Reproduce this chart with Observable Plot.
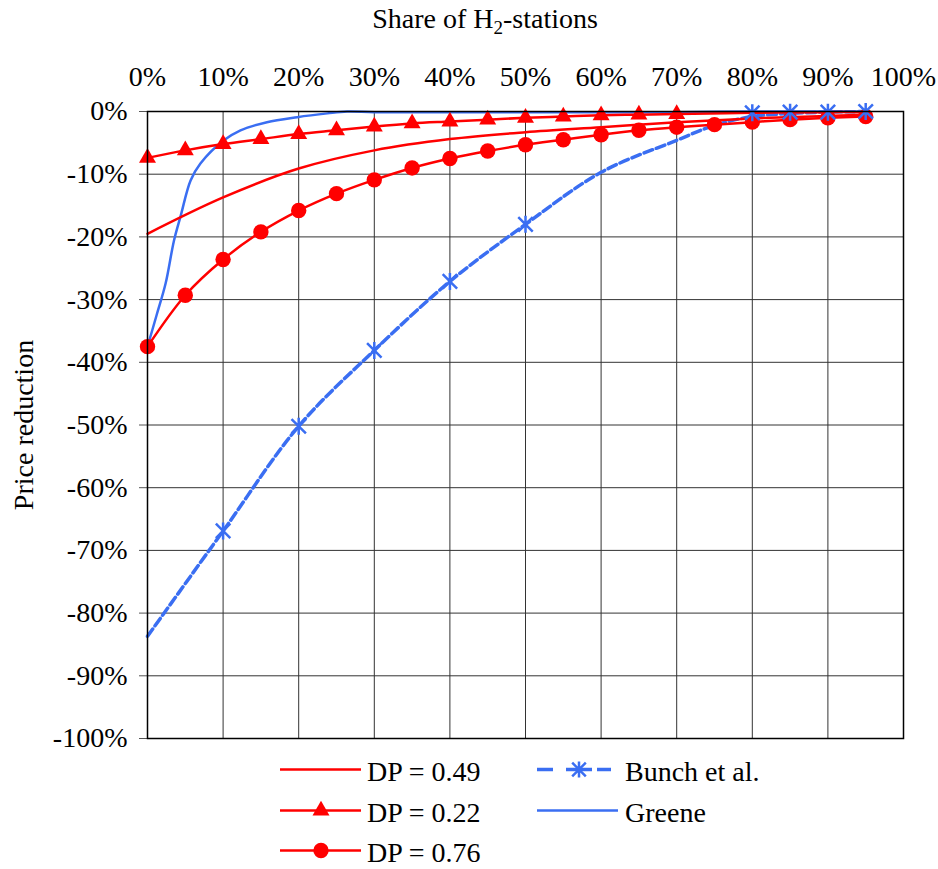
<!DOCTYPE html>
<html>
<head>
<meta charset="utf-8">
<script src="https://cdn.jsdelivr.net/npm/d3@7"></script>
<script src="https://cdn.jsdelivr.net/npm/@observablehq/plot@0.6"></script>
<style>
  html, body { margin: 0; padding: 0; background: #fff; }
  #chart svg { display: block; }
  #chart svg, #chart svg text { font-family: "Liberation Serif", serif !important; }
</style>
</head>
<body>
<div id="chart"></div>
<script>
// ---- data ----
const xTicks = [0, 10, 20, 30, 40, 50, 60, 70, 80, 90, 100];
const yTicks = [0, -10, -20, -30, -40, -50, -60, -70, -80, -90, -100];

// DP = 0.49 (line only)
const dp49X = [0, 10, 20, 30, 40, 50, 60, 70, 80, 90, 95];
const dp49Y = [-19.5, -13.7, -9.1, -6.2, -4.4, -3.3, -2.5, -1.7, -1.1, -0.7, -0.5];

// DP = 0.22 (triangles at 0..70, line continues)
const dp22X = [0, 5, 10, 15, 20, 25, 30, 35, 40, 45, 50, 55, 60, 65, 70, 80, 90, 95];
const dp22Y = [-7.4, -6.2, -5.2, -4.4, -3.6, -3.0, -2.4, -1.9, -1.6, -1.3, -1.0, -0.8, -0.6, -0.5, -0.4, -0.2, -0.1, -0.1];
const dp22MarkerCount = 15;

// DP = 0.76 (circles)
const dp76X = [0, 5, 10, 15, 20, 25, 30, 35, 40, 45, 50, 55, 60, 65, 70, 75, 80, 85, 90, 95];
const dp76Y = [-37.5, -29.3, -23.6, -19.2, -15.8, -13.1, -10.9, -9.0, -7.5, -6.3, -5.3, -4.5, -3.7, -3.0, -2.5, -2.1, -1.7, -1.3, -1.0, -0.8];

// Bunch et al. (dashed line, star markers)
const bunchX = [0, 10, 20, 30, 40, 50, 60, 70, 75, 80, 85, 90, 95];
const bunchY = [-83.7, -66.9, -50.2, -38.1, -27.1, -18.0, -9.7, -4.6, -2.2, -0.8, -0.3, -0.1, 0];
const bunchMarkX = [10, 20, 30, 40, 50, 80, 85, 90, 95];
const bunchMarkY = [-66.9, -50.2, -38.1, -27.1, -18.0, -0.2, -0.1, -0.1, 0];

// Greene (solid blue line)
const greeneX = [0, 1.2, 2.4, 3.5, 4.4, 5.7, 7.0, 10.1, 12.3, 15.8, 19.8, 23.8, 26.4, 30, 40, 50, 60, 70, 80, 90, 95];
const greeneY = [-37.5, -32.5, -27.4, -20.6, -16.6, -11.0, -8.3, -4.6, -3.0, -1.7, -0.9, -0.3, 0, -0.1, -0.1, -0.1, -0.1, -0.1, 0, 0, 0];

const zip = (xs, ys) => xs.map((x, i) => ({x, y: ys[i]}));
const dp49 = zip(dp49X, dp49Y);
const dp22 = zip(dp22X, dp22Y);
const dp22Marks = dp22.slice(0, dp22MarkerCount);
const dp76 = zip(dp76X, dp76Y);
const bunch = zip(bunchX, bunchY);
const bunchMarks = zip(bunchMarkX, bunchMarkY);
const greene = zip(greeneX, greeneY);

const RED = "#ff0000";
const BLUE = "#3a6ef2";
const FONT = "Liberation Serif";
const pct = d => d + "%";

// Excel-style "star" marker: an X with a vertical bar
const starSymbol = {
  draw(context, size) {
    const r = Math.sqrt(size / Math.PI);
    const d = r * 0.85;
    context.moveTo(-d, -d); context.lineTo(d, d);
    context.moveTo(d, -d); context.lineTo(-d, d);
    context.moveTo(0, -r); context.lineTo(0, r);
  }
};

const svg = Plot.plot({
  width: 938,
  height: 745,
  marginLeft: 147,
  marginRight: 35,
  marginTop: 111,
  marginBottom: 7,
  style: {fontFamily: FONT, fontSize: "28px", color: "black", background: "white", overflow: "visible"},
  x: {domain: [0, 100], axis: null},
  y: {domain: [-100, 0], axis: null},
  marks: [
    Plot.gridX(xTicks, {stroke: "#333", strokeOpacity: 1, strokeWidth: 1}),
    Plot.gridY(yTicks, {stroke: "#333", strokeOpacity: 1, strokeWidth: 1}),
    Plot.axisX(xTicks, {anchor: "top", tickSize: 0, tickPadding: 26, tickFormat: pct, label: null, fontSize: 28}),
    Plot.axisY(yTicks, {anchor: "left", tickSize: 8, tickPadding: 12, tickFormat: pct, label: null, fontSize: 28, stroke: "#555"}),
    Plot.line(bunch, {x: "x", y: "y", stroke: BLUE, strokeWidth: 3.5, strokeDasharray: "9,4", curve: "catmull-rom"}),
    Plot.line(greene, {x: "x", y: "y", stroke: BLUE, strokeWidth: 2.5, curve: "catmull-rom"}),
    Plot.line(dp49, {x: "x", y: "y", stroke: RED, strokeWidth: 2.5, curve: "catmull-rom"}),
    Plot.line(dp22, {x: "x", y: "y", stroke: RED, strokeWidth: 2.5, curve: "catmull-rom"}),
    Plot.line(dp76, {x: "x", y: "y", stroke: RED, strokeWidth: 2.5, curve: "catmull-rom"}),
    Plot.dot(dp22Marks, {x: "x", y: "y", symbol: "triangle", r: 6.3, fill: RED, stroke: "none"}),
    Plot.dot(dp76, {x: "x", y: "y", symbol: "circle", r: 7.7, fill: RED, stroke: "none"}),
    Plot.dot(bunchMarks, {x: "x", y: "y", symbol: starSymbol, r: 8.5, stroke: BLUE, strokeWidth: 2.5, fill: "none"}),
    Plot.frame({stroke: "black", strokeWidth: 1.5})
  ]
});

const s = d3.select(svg);
// top axis title with subscript
const title = s.append("text")
  .attr("x", 485).attr("y", 28)
  .attr("text-anchor", "middle")
  .attr("font-family", FONT).attr("font-size", 28).attr("fill", "black");
title.append("tspan").text("Share of H");
title.append("tspan").attr("dy", 6).attr("font-size", 19).text("2");
title.append("tspan").attr("dy", -6).text("-stations");

// y axis title
s.append("text")
  .attr("transform", "translate(33,425) rotate(-90)")
  .attr("text-anchor", "middle")
  .attr("font-family", FONT).attr("font-size", 28).attr("fill", "black")
  .text("Price reduction");

document.getElementById("chart").appendChild(svg);

// ---- legend below the plot ----
const legend = d3.select("#chart").append("svg")
  .attr("width", 938).attr("height", 124)
  .attr("font-family", FONT)
  .style("display", "block").style("background", "white");
const rows = [769.5 - 745, 810.5 - 745, 850.5 - 745];
const textStyle = sel => sel.attr("font-family", FONT).attr("font-size", 28).attr("fill", "black");

// left column
legend.append("line").attr("x1", 280).attr("x2", 361).attr("y1", rows[0]).attr("y2", rows[0]).attr("stroke", RED).attr("stroke-width", 2.5);
legend.append("line").attr("x1", 280).attr("x2", 361).attr("y1", rows[1]).attr("y2", rows[1]).attr("stroke", RED).attr("stroke-width", 2.5);
legend.append("path").attr("transform", `translate(321,${rows[1]})`).attr("d", d3.symbol(d3.symbolTriangle, Math.PI * 6.3 * 6.3)()).attr("fill", RED);
legend.append("line").attr("x1", 280).attr("x2", 361).attr("y1", rows[2]).attr("y2", rows[2]).attr("stroke", RED).attr("stroke-width", 2.5);
legend.append("circle").attr("cx", 321).attr("cy", rows[2]).attr("r", 7.7).attr("fill", RED);
["DP = 0.49", "DP = 0.22", "DP = 0.76"].forEach((t, i) =>
  legend.append("text").attr("x", 367).attr("y", rows[i] + 11).text(t).call(textStyle));

// right column
[[537, 553], [566, 592], [597, 611]].forEach(([a, b]) =>
  legend.append("line").attr("x1", a).attr("x2", b).attr("y1", rows[0]).attr("y2", rows[0]).attr("stroke", BLUE).attr("stroke-width", 3.5));
legend.append("path").attr("transform", `translate(579,${rows[0]})`).attr("d", d3.symbol(starSymbol, Math.PI * 8 * 8)())
  .attr("fill", "none").attr("stroke", BLUE).attr("stroke-width", 2.5);
legend.append("line").attr("x1", 537).attr("x2", 618).attr("y1", rows[1]).attr("y2", rows[1]).attr("stroke", BLUE).attr("stroke-width", 2.5);
legend.append("text").attr("x", 625).attr("y", rows[0] + 11).text("Bunch et al.").call(textStyle);
legend.append("text").attr("x", 625).attr("y", rows[1] + 11).text("Greene").call(textStyle);
</script>
</body>
</html>
